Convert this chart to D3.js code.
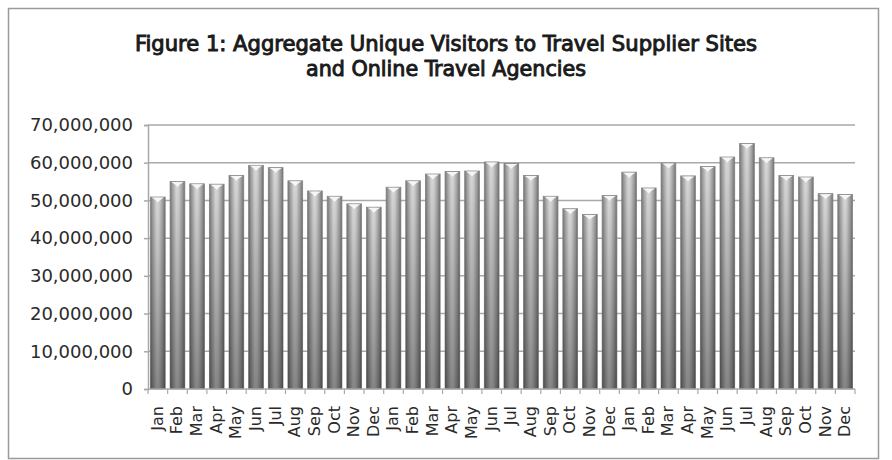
<!DOCTYPE html>
<html>
<head>
<meta charset="utf-8">
<script src="https://cdn.jsdelivr.net/npm/d3@7"></script>
<style>
  html, body { margin: 0; padding: 0; background: #fff; }
  svg { display: block; }
</style>
</head>
<body>
<svg id="chart" width="892" height="460"></svg>
<script>
// Monthly aggregate unique visitors, three consecutive years
const monthNames = ["Jan","Feb","Mar","Apr","May","Jun","Jul","Aug","Sep","Oct","Nov","Dec"];
const visitorsYear1 = [50.9, 55.0, 54.4, 54.3, 56.6, 59.3, 58.7, 55.2, 52.5, 51.1, 49.1, 48.2];
const visitorsYear2 = [53.5, 55.2, 57.0, 57.7, 57.8, 60.2, 59.8, 56.6, 51.1, 47.8, 46.3, 51.3];
const visitorsYear3 = [57.5, 53.3, 59.9, 56.5, 59.0, 61.5, 65.1, 61.3, 56.6, 56.2, 51.8, 51.6];
const yTicks = [0, 10000000, 20000000, 30000000, 40000000, 50000000, 60000000, 70000000];
const titleLines = [
  "Figure 1: Aggregate Unique Visitors to Travel Supplier Sites",
  "and Online Travel Agencies"
];
const titleWidths = [622, 280];

// Build the row table from the named arrays (values are in millions)
const rows = [];
[visitorsYear1, visitorsYear2, visitorsYear3].forEach((yr, yi) => {
  yr.forEach((v, mi) => rows.push({ key: yi + "-" + mi, label: monthNames[mi], value: v * 1e6 }));
});

const svg = d3.select("#chart");

// Outer frame
svg.append("rect")
  .attr("x", 8.5).attr("y", 8.5)
  .attr("width", 870).attr("height", 450)
  .attr("fill", "#fff")
  .attr("stroke", "#9a9a9a")
  .attr("stroke-width", 1.5);

// Title (semi-bold look: regular condensed face with a thin outline)
const title = svg.append("g");
titleLines.forEach((t, i) => {
  title.append("text")
    .attr("x", 446)
    .attr("y", 51 + i * 25)
    .attr("text-anchor", "middle")
    .attr("font-family", "'DejaVu Sans Condensed', 'DejaVu Sans', sans-serif")
    .attr("font-size", 21)
    .attr("textLength", titleWidths[i])
    .attr("lengthAdjust", "spacingAndGlyphs")
    .attr("fill", "#1a1a1a")
    .attr("stroke", "#1a1a1a")
    .attr("stroke-width", 0.9)
    .text(t);
});

const plotLeft = 148, plotRight = 855, plotTop = 125, plotBottom = 389;

const x = d3.scaleBand()
  .domain(rows.map(d => d.key))
  .range([plotLeft, plotRight])
  .paddingInner(0.25)
  .paddingOuter(0.125);

const y = d3.scaleLinear()
  .domain([0, 70000000])
  .range([plotBottom, plotTop]);

// Gradients for the shaded bars
const defs = svg.append("defs");
const hg = defs.append("linearGradient").attr("id", "barH")
  .attr("x1", 0).attr("x2", 1).attr("y1", 0).attr("y2", 0);
[["0%", "#747474"], ["14%", "#9c9c9c"], ["42%", "#d8d8d8"], ["58%", "#d2d2d2"], ["86%", "#989898"], ["100%", "#6e6e6e"]]
  .forEach(([o, c]) => hg.append("stop").attr("offset", o).attr("stop-color", c));
const vg = defs.append("linearGradient").attr("id", "barV")
  .attr("x1", 0).attr("x2", 0).attr("y1", 0).attr("y2", 1);
vg.append("stop").attr("offset", "0%").attr("stop-color", "#000").attr("stop-opacity", 0);
vg.append("stop").attr("offset", "100%").attr("stop-color", "#000").attr("stop-opacity", 0.38);

// Horizontal gridlines
svg.append("g")
  .selectAll("line")
  .data(yTicks.filter(d => d > 0))
  .join("line")
  .attr("x1", plotLeft).attr("x2", plotRight)
  .attr("y1", d => y(d)).attr("y2", d => y(d))
  .attr("stroke", "#a9a9a9")
  .attr("stroke-width", 1.5);

// Y axis
const yAxis = svg.append("g")
  .attr("transform", `translate(${plotLeft},0)`)
  .call(d3.axisLeft(y).tickValues(yTicks).tickSize(4).tickPadding(11)
    .tickFormat(d3.format(",")));
yAxis.select(".domain").attr("stroke", "#a9a9a9").attr("stroke-width", 1.5);
yAxis.selectAll(".tick line").attr("stroke", "#a9a9a9").attr("stroke-width", 1.5);
yAxis.selectAll("text")
  .attr("font-family", "'DejaVu Sans', sans-serif")
  .attr("font-size", 18)
  .attr("fill", "#2a2a2a");

// Bars
const bars = svg.append("g");
bars.selectAll("rect.bar")
  .data(rows)
  .join("rect")
  .attr("class", "bar")
  .attr("x", d => x(d.key))
  .attr("y", d => y(d.value))
  .attr("width", x.bandwidth())
  .attr("height", d => y(0) - y(d.value))
  .attr("fill", "url(#barH)")
  .attr("stroke", "#858585")
  .attr("stroke-width", 0.8);
bars.selectAll("rect.shade")
  .data(rows)
  .join("rect")
  .attr("class", "shade")
  .attr("x", d => x(d.key))
  .attr("y", d => y(d.value))
  .attr("width", x.bandwidth())
  .attr("height", d => y(0) - y(d.value))
  .attr("fill", "url(#barV)");
// Bevelled cap on each bar
bars.selectAll("path.cap")
  .data(rows)
  .join("path")
  .attr("class", "cap")
  .attr("d", d => {
    const x0 = x(d.key), w = x.bandwidth(), t = y(d.value);
    return `M${x0 + 1.2},${t + 0.5} L${x0 + w - 1.2},${t + 0.5} Q${x0 + w * 0.62},${t + 3} ${x0 + w / 2},${t + 5.5} Q${x0 + w * 0.38},${t + 3} ${x0 + 1.2},${t + 0.5} Z`;
  })
  .attr("fill", "#f6f6f6");

// X axis with ticks on band boundaries
const xAxisG = svg.append("g");
xAxisG.append("line")
  .attr("x1", plotLeft).attr("x2", plotRight)
  .attr("y1", plotBottom).attr("y2", plotBottom)
  .attr("stroke", "#a9a9a9").attr("stroke-width", 1.5);
const step = x.step();
const boundaries = rows.map(d => x(d.key) - (step - x.bandwidth()) / 2).concat([plotRight]);
xAxisG.selectAll("line.tick")
  .data(boundaries)
  .join("line")
  .attr("class", "tick")
  .attr("x1", d => d).attr("x2", d => d)
  .attr("y1", plotBottom).attr("y2", plotBottom + 5)
  .attr("stroke", "#a9a9a9").attr("stroke-width", 1.2);
xAxisG.selectAll("text")
  .data(rows)
  .join("text")
  .attr("transform", d => `translate(${x(d.key) + x.bandwidth() / 2 + 5},406) rotate(-90)`)
  .attr("text-anchor", "end")
  .attr("font-family", "'DejaVu Sans', sans-serif")
  .attr("font-size", 16)
  .attr("fill", "#2a2a2a")
  .text(d => d.label);
</script>
</body>
</html>
